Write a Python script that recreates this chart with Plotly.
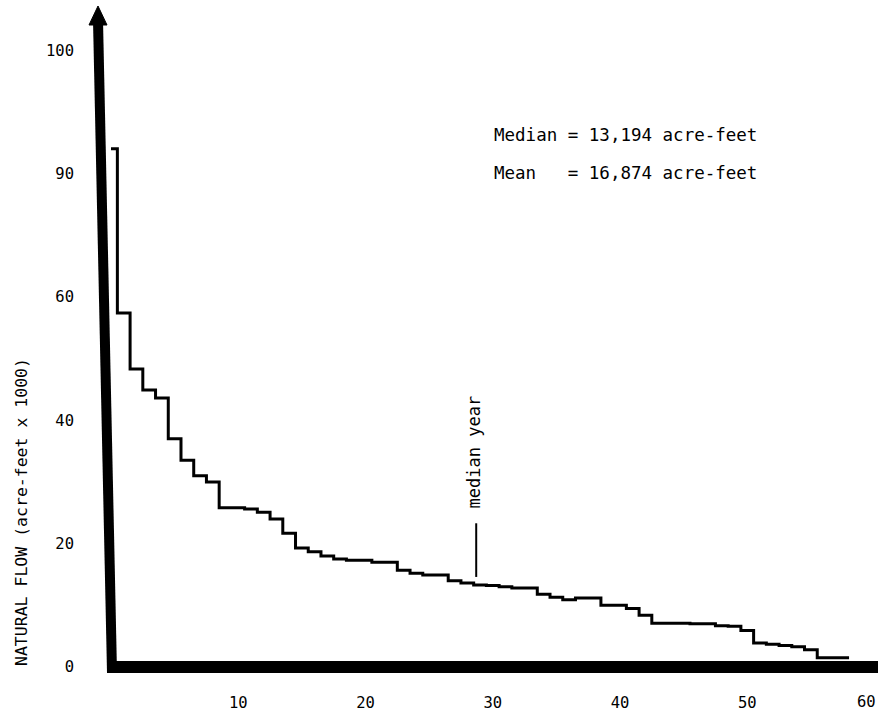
import plotly.graph_objects as go

# ---- data ----
years = list(range(59))
flow = [84.0, 57.4, 48.3, 44.9, 43.6, 37.0, 33.5, 31.0, 30.0,
        25.8, 25.8, 25.6, 25.1, 24.0,
        21.7, 19.3, 18.7, 18.0, 17.5, 17.3, 17.3, 17.0, 17.0,
        15.7, 15.2, 14.9, 14.9, 14.0, 13.6, 13.3, 13.2, 13.0, 12.8, 12.8,
        11.8, 11.3, 10.9, 11.2, 11.2, 10.0, 10.0, 9.5, 8.4,
        7.1, 7.1, 7.1, 7.0, 7.0, 6.7, 6.6, 5.9,
        3.9, 3.7, 3.5, 3.3, 2.8, 1.5, 1.5, 1.5]

x_tickvals = [10, 20, 30, 40, 50]
x_ticktext = ["10", "20", "30", "40", "50"]
x_last_tick = "60"
y_tickvals = [0, 20, 40, 60, 80, 100]
y_ticktext = ["0", "20", "40", "60", "90", "100"]

median_year_x = 28.7
median_mark_y = [14.6, 23.3]
median_label_y = 34.9
stats_lines = ["Median\u00a0=\u00a013,194\u00a0acre-feet",
               "Mean\u00a0\u00a0\u00a0=\u00a016,874\u00a0acre-feet"]
y_title = "NATURAL\u00a0FLOW\u00a0(acre-feet\u00a0x\u00a01000)"

FONT = "DejaVu Sans Mono"

# ---- layout geometry (pixels) ----
W, H = 878, 716
L, R, T, B = 111, 0, 7, 49
pw, ph = W - L - R, H - T - B


def px(xp):
    return (xp - L) / pw


def py(yp):
    return (H - B - yp) / ph


fig = go.Figure()
fig.add_trace(go.Scatter(
    x=years, y=flow, mode="lines",
    line=dict(color="black", width=3, shape="hvh"),
    hoverinfo="skip", showlegend=False))

# median-year marker
fig.add_trace(go.Scatter(
    x=[median_year_x, median_year_x], y=median_mark_y, mode="lines",
    line=dict(color="black", width=2), hoverinfo="skip", showlegend=False))

shapes = []
# thick x axis line
shapes.append(dict(type="line", xref="paper", yref="paper",
                   x0=px(107), x1=px(880), y0=py(667), y1=py(667),
                   line=dict(color="black", width=12), layer="above"))
# thick (slightly tilted) y axis line
shapes.append(dict(type="line", xref="paper", yref="paper",
                   x0=px(112), y0=py(672), x1=px(98), y1=py(20),
                   line=dict(color="black", width=10), layer="above"))
# arrow head
shapes.append(dict(type="path", xref="paper", yref="paper",
                   path=f"M {px(98)} {py(6)} L {px(89)} {py(25)} L {px(107)} {py(25)} Z",
                   fillcolor="black", line=dict(color="black", width=1),
                   layer="above"))

annotations = [
    dict(text=y_title, xref="paper", yref="paper", x=px(21), y=py(512),
         xanchor="center", yanchor="middle",
         textangle=-90, showarrow=False, font=dict(family=FONT, size=16.5, color="black")),
    dict(text=stats_lines[0], xref="paper", yref="paper", x=px(492), y=py(135),
         xanchor="left", yanchor="middle", showarrow=False,
         font=dict(family=FONT, size=17.5, color="black")),
    dict(text=stats_lines[1], xref="paper", yref="paper", x=px(492), y=py(173),
         xanchor="left", yanchor="middle", showarrow=False,
         font=dict(family=FONT, size=17.5, color="black")),
    dict(text="median\u00a0year", xref="x", yref="y", x=median_year_x - 0.2, y=median_label_y,
         xanchor="center", yanchor="middle",
         textangle=-90, showarrow=False, font=dict(family=FONT, size=17, color="black")),
    # last x tick label, kept inside the page edge
    dict(text=x_last_tick, xref="paper", yref="paper", x=1, y=py(702),
         xanchor="right", yanchor="middle", showarrow=False,
         font=dict(family=FONT, size=15.5, color="black")),
]

fig.update_layout(
    width=W, height=H,
    margin=dict(l=L, r=R, t=T, b=B, pad=0, autoexpand=False),
    paper_bgcolor="white", plot_bgcolor="white",
    shapes=shapes, annotations=annotations,
    showlegend=False,
    xaxis=dict(range=[0, (W - L) / 12.725], showgrid=False, zeroline=False, showline=False,
               tickvals=x_tickvals, ticktext=x_ticktext, ticks="",
               ticklabelstandoff=24, automargin=False,
               tickfont=dict(family=FONT, size=15.5, color="black")),
    yaxis=dict(range=[0, 107], showgrid=False, zeroline=False, showline=False,
               tickvals=y_tickvals, ticktext=y_ticktext, ticks="",
               ticklabelstandoff=36, automargin=False,
               tickfont=dict(family=FONT, size=15.5, color="black")),
)

fig.write_html("out.html")
